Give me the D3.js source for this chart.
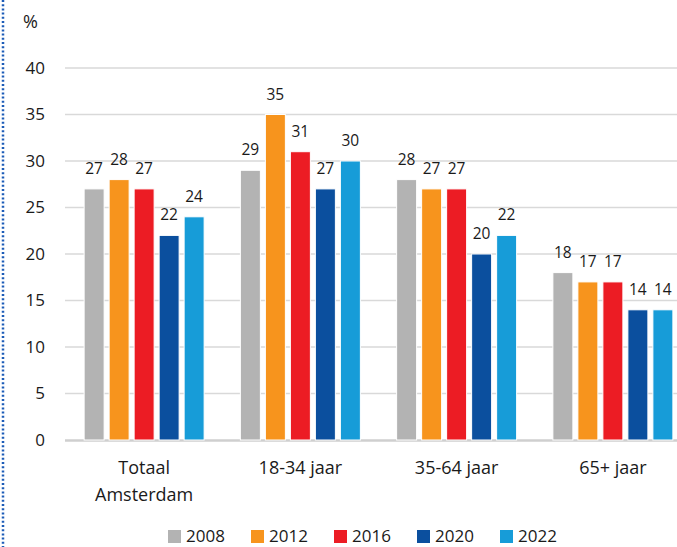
<!DOCTYPE html>
<html><head><meta charset="utf-8">
<script src="https://cdn.jsdelivr.net/npm/d3@7"></script>
<style>body{margin:0;background:#fff;}svg{display:block;}text{font-family:"Open Sans",Lato,sans-serif;fill:#1a1a1a;}</style>
</head><body><svg id="c" width="677" height="547"></svg>
<script>
const categories = [["Totaal","Amsterdam"],["18-34 jaar"],["35-64 jaar"],["65+ jaar"]];
const years = ["2008","2012","2016","2020","2022"];
const colors = ["#b3b3b3","#f7941d","#ec1c24","#0b4f9e","#179cd8"];
const v2008 = [27,29,28,18];
const v2012 = [28,35,27,17];
const v2016 = [27,31,27,17];
const v2020 = [22,27,20,14];
const v2022 = [24,30,22,14];
const yTicks = [0,5,10,15,20,25,30,35,40];
const series = [v2008,v2012,v2016,v2020,v2022];

const svg = d3.select("#c");
const y = d3.scaleLinear().domain([0,40]).range([440,68]);
const x0 = d3.scaleBand().domain(d3.range(categories.length)).range([66,691]);
const x1 = d3.scaleBand().domain(d3.range(years.length)).range([0,120]).paddingInner(0.2);

// dotted left border
svg.append("line").attr("x1",3).attr("x2",3).attr("y1",0).attr("y2",547)
  .attr("stroke","#1d5cb8").attr("stroke-width",2.5).attr("stroke-dasharray","2,2.2");

// gridlines
svg.selectAll(".grid").data(yTicks.filter(t=>t>0)).join("line")
  .attr("x1",65).attr("x2",677).attr("y1",d=>y(d)).attr("y2",d=>y(d))
  .attr("stroke","#d9d9d9").attr("stroke-width",1.5);
svg.append("line").attr("x1",65).attr("x2",677).attr("y1",y(0)+0.5).attr("y2",y(0)+0.5)
  .attr("stroke","#cfcfcf").attr("stroke-width",2.5);

// y tick labels
svg.selectAll(".yt").data(yTicks).join("text")
  .attr("x",45).attr("y",d=>y(d)).attr("dy","0.35em").attr("text-anchor","end")
  .attr("font-size",17).text(d=>d);
svg.append("text").attr("x",23).attr("y",28).attr("font-size",18).text("%");

// bars
const g = svg.selectAll(".grp").data(categories).join("g")
  .attr("transform",(d,i)=>`translate(${x0(i)+x0.bandwidth()/2-60},0)`);
g.each(function(c,ci){
  const sel = d3.select(this);
  series.forEach((s,si)=>{
    sel.append("rect").attr("x",x1(si)).attr("width",x1.bandwidth())
      .attr("y",y(s[ci])).attr("height",y(0)-y(s[ci]))
      .attr("fill",colors[si]).attr("stroke","#fff").attr("stroke-width",1);
    sel.append("text").attr("x",x1(si)+x1.bandwidth()/2).attr("y",y(s[ci])-15)
      .attr("text-anchor","middle").attr("font-size",15.5).text(s[ci]);
  });
});

// category labels
categories.forEach((lines,i)=>{
  const t = svg.append("text").attr("text-anchor","middle").attr("font-size",18)
    .attr("x",x0(i)+x0.bandwidth()/2).attr("y",474);
  lines.forEach((l,li)=>t.append("tspan").attr("x",x0(i)+x0.bandwidth()/2).attr("dy",li?27:0).text(l));
});

// legend
const lg = svg.selectAll(".lg").data(years).join("g")
  .attr("transform",(d,i)=>`translate(${168+i*83},530)`);
lg.append("rect").attr("width",13).attr("height",13).attr("fill",(d,i)=>colors[i]);
lg.append("text").attr("x",18).attr("y",12).attr("font-size",17).text(d=>d);
</script></body></html>
